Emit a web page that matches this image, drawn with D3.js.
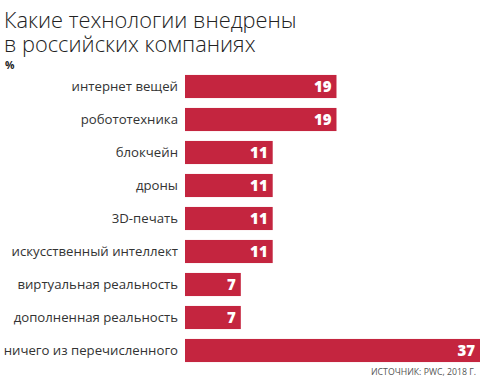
<!DOCTYPE html>
<html><head><meta charset="utf-8">
<script src="https://cdn.jsdelivr.net/npm/d3@7"></script>
<style>body{margin:0;background:#fff;} svg{display:block;}</style>
</head><body>
<script>
const categories = ["интернет вещей","робототехника","блокчейн","дроны","3D-печать","искусственный интеллект","виртуальная реальность","дополненная реальность","ничего из перечисленного"];
const values = [19,19,11,11,11,11,7,7,37];
const titleLines = ["Какие технологии внедрены","в российских компаниях"];
const unitLabel = "%";
const sourceText = "ИСТОЧНИК: PWC, 2018 Г.";

const W = 485, H = 380;
const svg = d3.select("body").append("svg").attr("width", W).attr("height", H);

const title = svg.append("text")
  .attr("font-family","Open Sans").attr("font-weight",300).attr("font-size",21.8)
  .attr("fill","#222");
title.selectAll("tspan").data(titleLines).join("tspan")
  .attr("x", 4).attr("y", (d,i)=>28 + i*24).text(d=>d);
svg.append("text").attr("x",5).attr("y",69).attr("font-family","Open Sans")
  .attr("font-weight",700).attr("font-size",10.5).attr("fill","#222").text(unitLabel);

const x = d3.scaleLinear().domain([0,37]).range([185,480]);
const y = d3.scaleBand().domain(categories).range([70,367]).paddingInner(0.3).paddingOuter(0.15);

const g = svg.append("g");
g.selectAll("rect").data(categories).join("rect")
  .attr("x", x(0)).attr("y", d=>y(d)).attr("width", (d,i)=>x(values[i])-x(0))
  .attr("height", y.bandwidth()).attr("fill","#c4253f");

g.selectAll("text.cat").data(categories).join("text")
  .attr("x",178).attr("y", d=>y(d)+y.bandwidth()/2).attr("dy","0.35em")
  .attr("text-anchor","end").attr("font-family","Open Sans").attr("font-size",13.2)
  .attr("fill","#333").text(d=>d);

g.selectAll("text.val").data(categories).join("text")
  .attr("x",(d,i)=>x(values[i])-5).attr("y", d=>y(d)+y.bandwidth()/2).attr("dy","0.36em")
  .attr("text-anchor","end").attr("font-family","Open Sans").attr("font-weight",800).attr("font-size",15)
  .attr("fill","#fff").text((d,i)=>values[i]);

svg.append("text").attr("x",476).attr("y",375).attr("text-anchor","end")
  .attr("font-family","Open Sans").attr("font-size",9).attr("fill","#555")
  .attr("textLength",105).attr("lengthAdjust","spacingAndGlyphs").text(sourceText);
</script>
</body></html>
